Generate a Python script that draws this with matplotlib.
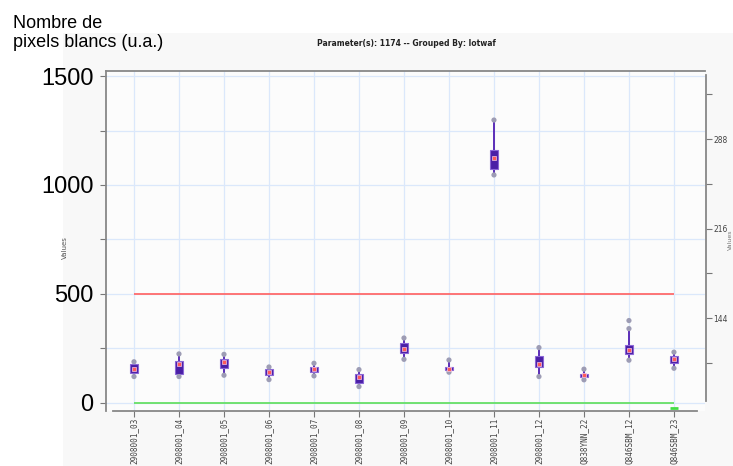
"""
Box summary per lot (parameter 1174) with spec limits.
"""

import matplotlib
matplotlib.use("Agg")
import matplotlib.pyplot as plt
import matplotlib.patches as mpatches
from matplotlib.ticker import FixedLocator

# ---------------------------------------------------------------------------
# Data
# ---------------------------------------------------------------------------
LOTS = [
    "2908001_03", "2908001_04", "2908001_05", "2908001_06", "2908001_07",
    "2908001_08", "2908001_09", "2908001_10", "2908001_11", "2908001_12",
    "Q838YNN_22", "Q846SBM_12", "Q846SBM_23",
]
WHISK_LO = [121, 121, 127, 107, 124, 75, 200, 141, 1046, 121, 106, 196, 159]
Q1 = [139, 134, 159, 130, 142, 90, 231, 153, 1073, 167, 119, 225, 183]
MEDIAN = [156, 180, 187, 141, 155, 121, 249, 157, 1125, 180, 127, 243, 200]
Q3 = [177, 193, 200, 155, 165, 133, 274, 164, 1161, 216, 133, 266, 217]
WHISK_HI = [189, 225, 223, 165, 182, 153, 298, 197, 1298, 254, 155, 341, 233]
OUTLIERS_X = [11]
OUTLIERS_Y = [378]

UPPER_LIMIT = 500
LOWER_LIMIT = 0
STRAY_X = [12]
STRAY_Y = [-23]

LEFT_TICKS = [0, 500, 1000, 1500]
LEFT_MINOR = [250, 750, 1250]
RIGHT_TICKS = [144, 216, 288]
RIGHT_MINOR = [108, 180, 252, 324]

TITLE = "Parameter(s): 1174 -- Grouped By: lotwaf"

# ---------------------------------------------------------------------------
# Figure
# ---------------------------------------------------------------------------
W, H = 733, 466
fig = plt.figure(figsize=(W / 100, H / 100), dpi=100)
fig.patch.set_facecolor("white")
bg = mpatches.Rectangle((63 / W, 0), 1, (H - 33) / H,
                        transform=fig.transFigure,
                        facecolor="#f8f8f8", edgecolor="none", zorder=-5)
fig.add_artist(bg)

ax = fig.add_axes([106 / W, (H - 411) / H, (705 - 106) / W, 340 / H])
ax.set_facecolor("#fcfcfc")

x = list(range(len(LOTS)))

# grid
for yv in LEFT_TICKS + LEFT_MINOR:
    ax.axhline(yv, color="#dbe8fb", lw=0.9, zorder=1)
for xv in x:
    ax.axvline(xv, color="#dbe8fb", lw=0.9, zorder=1)

# spec limits
ax.hlines(UPPER_LIMIT, x[0], x[-1], color="#ff6b6b", lw=1.3, zorder=2)
ax.hlines(LOWER_LIMIT, x[0], x[-1], color="#66e066", lw=1.3, zorder=2)
ax.scatter(STRAY_X, STRAY_Y, marker="_", s=30, color="#44dd44", lw=2,
           zorder=3, clip_on=False)

# whiskers
ax.vlines(x, WHISK_LO, WHISK_HI, color="#5b2db8", lw=1.4, zorder=3)
# boxes
heights = [q3 - q1 for q1, q3 in zip(Q1, Q3)]
ax.bar(x, heights, bottom=Q1, width=0.17, color="#4a1fa6",
       edgecolor="#8a66d6", lw=0.8, zorder=4)
# whisker ends
ax.scatter(x + x, WHISK_LO + WHISK_HI, s=14, color="#9d9cb4",
           edgecolors="none", zorder=5)
ax.scatter(OUTLIERS_X, OUTLIERS_Y, s=14, color="#9d9cb4",
           edgecolors="none", zorder=5)
# medians
ax.scatter(x, MEDIAN, s=6, marker="s", color="#ff5a5a",
           edgecolors="#f0c8e8", linewidths=0.5, zorder=6)

ax.set_xlim(-0.622, 12.69)
ax.set_ylim(-37, 1523)

# left axis
ax.yaxis.set_major_locator(FixedLocator(LEFT_TICKS))
ax.yaxis.set_minor_locator(FixedLocator(LEFT_MINOR))
ax.set_yticklabels([str(v) for v in LEFT_TICKS], fontsize=17,
                   family="Liberation Sans")
ax.tick_params(axis="y", which="both", direction="out", length=4,
               color="#777777", width=0.8, pad=5)
ax.set_ylabel("Values", fontsize=5, color="#555555")
ax.yaxis.set_label_coords(-38 / 599, 0.48)

# bottom axis
ax.set_xticks(x)
ax.set_xticklabels(LOTS, rotation=90, fontsize=5.6, family="DejaVu Sans Mono",
                   color="#444444")
ax.tick_params(axis="x", direction="out", length=4, color="#777777",
               width=0.8, pad=1)

for side in ("left", "top", "bottom"):
    ax.spines[side].set_color("#888888")
    ax.spines[side].set_linewidth(1.3)
ax.spines["right"].set_visible(False)
ax.spines["bottom"].set_bounds(-0.47, 12.51)

# right axis
ax2 = ax.twinx()
ax2.set_ylim(69.2, 342.7)
ax2.yaxis.set_major_locator(FixedLocator(RIGHT_TICKS))
ax2.yaxis.set_minor_locator(FixedLocator(RIGHT_MINOR))
ax2.tick_params(axis="y", which="both", direction="out", length=4,
                color="#777777", width=0.8, pad=1, labelsize=5.5,
                labelcolor="#444444")
for lab in ax2.get_yticklabels():
    lab.set_family("DejaVu Sans Mono")
    lab.set_fontweight("bold")
for side in ("left", "top", "bottom"):
    ax2.spines[side].set_visible(False)
ax2.spines["right"].set_color("#888888")
ax2.spines["right"].set_linewidth(1.3)
ax2.spines["right"].set_position(("outward", 1))
ax2.spines["right"].set_bounds(77.6, 339.5)

# titles
fig.text(406 / W, 1 - 44 / H, TITLE, fontsize=5.5, fontweight="bold",
         ha="center", va="center", color="#222222")
fig.text(13 / W, 1 - 28 / H, "Nombre de", fontsize=13,
         family="Liberation Sans", ha="left", va="baseline")
fig.text(13 / W, 1 - 47 / H, "pixels blancs (u.a.)", fontsize=13,
         family="Liberation Sans", ha="left", va="baseline")
fig.text(730 / W, 1 - 240 / H, "Values", fontsize=4.5, rotation=90,
         ha="center", va="center", color="#777777")

fig.savefig("out.png", dpi=100)
